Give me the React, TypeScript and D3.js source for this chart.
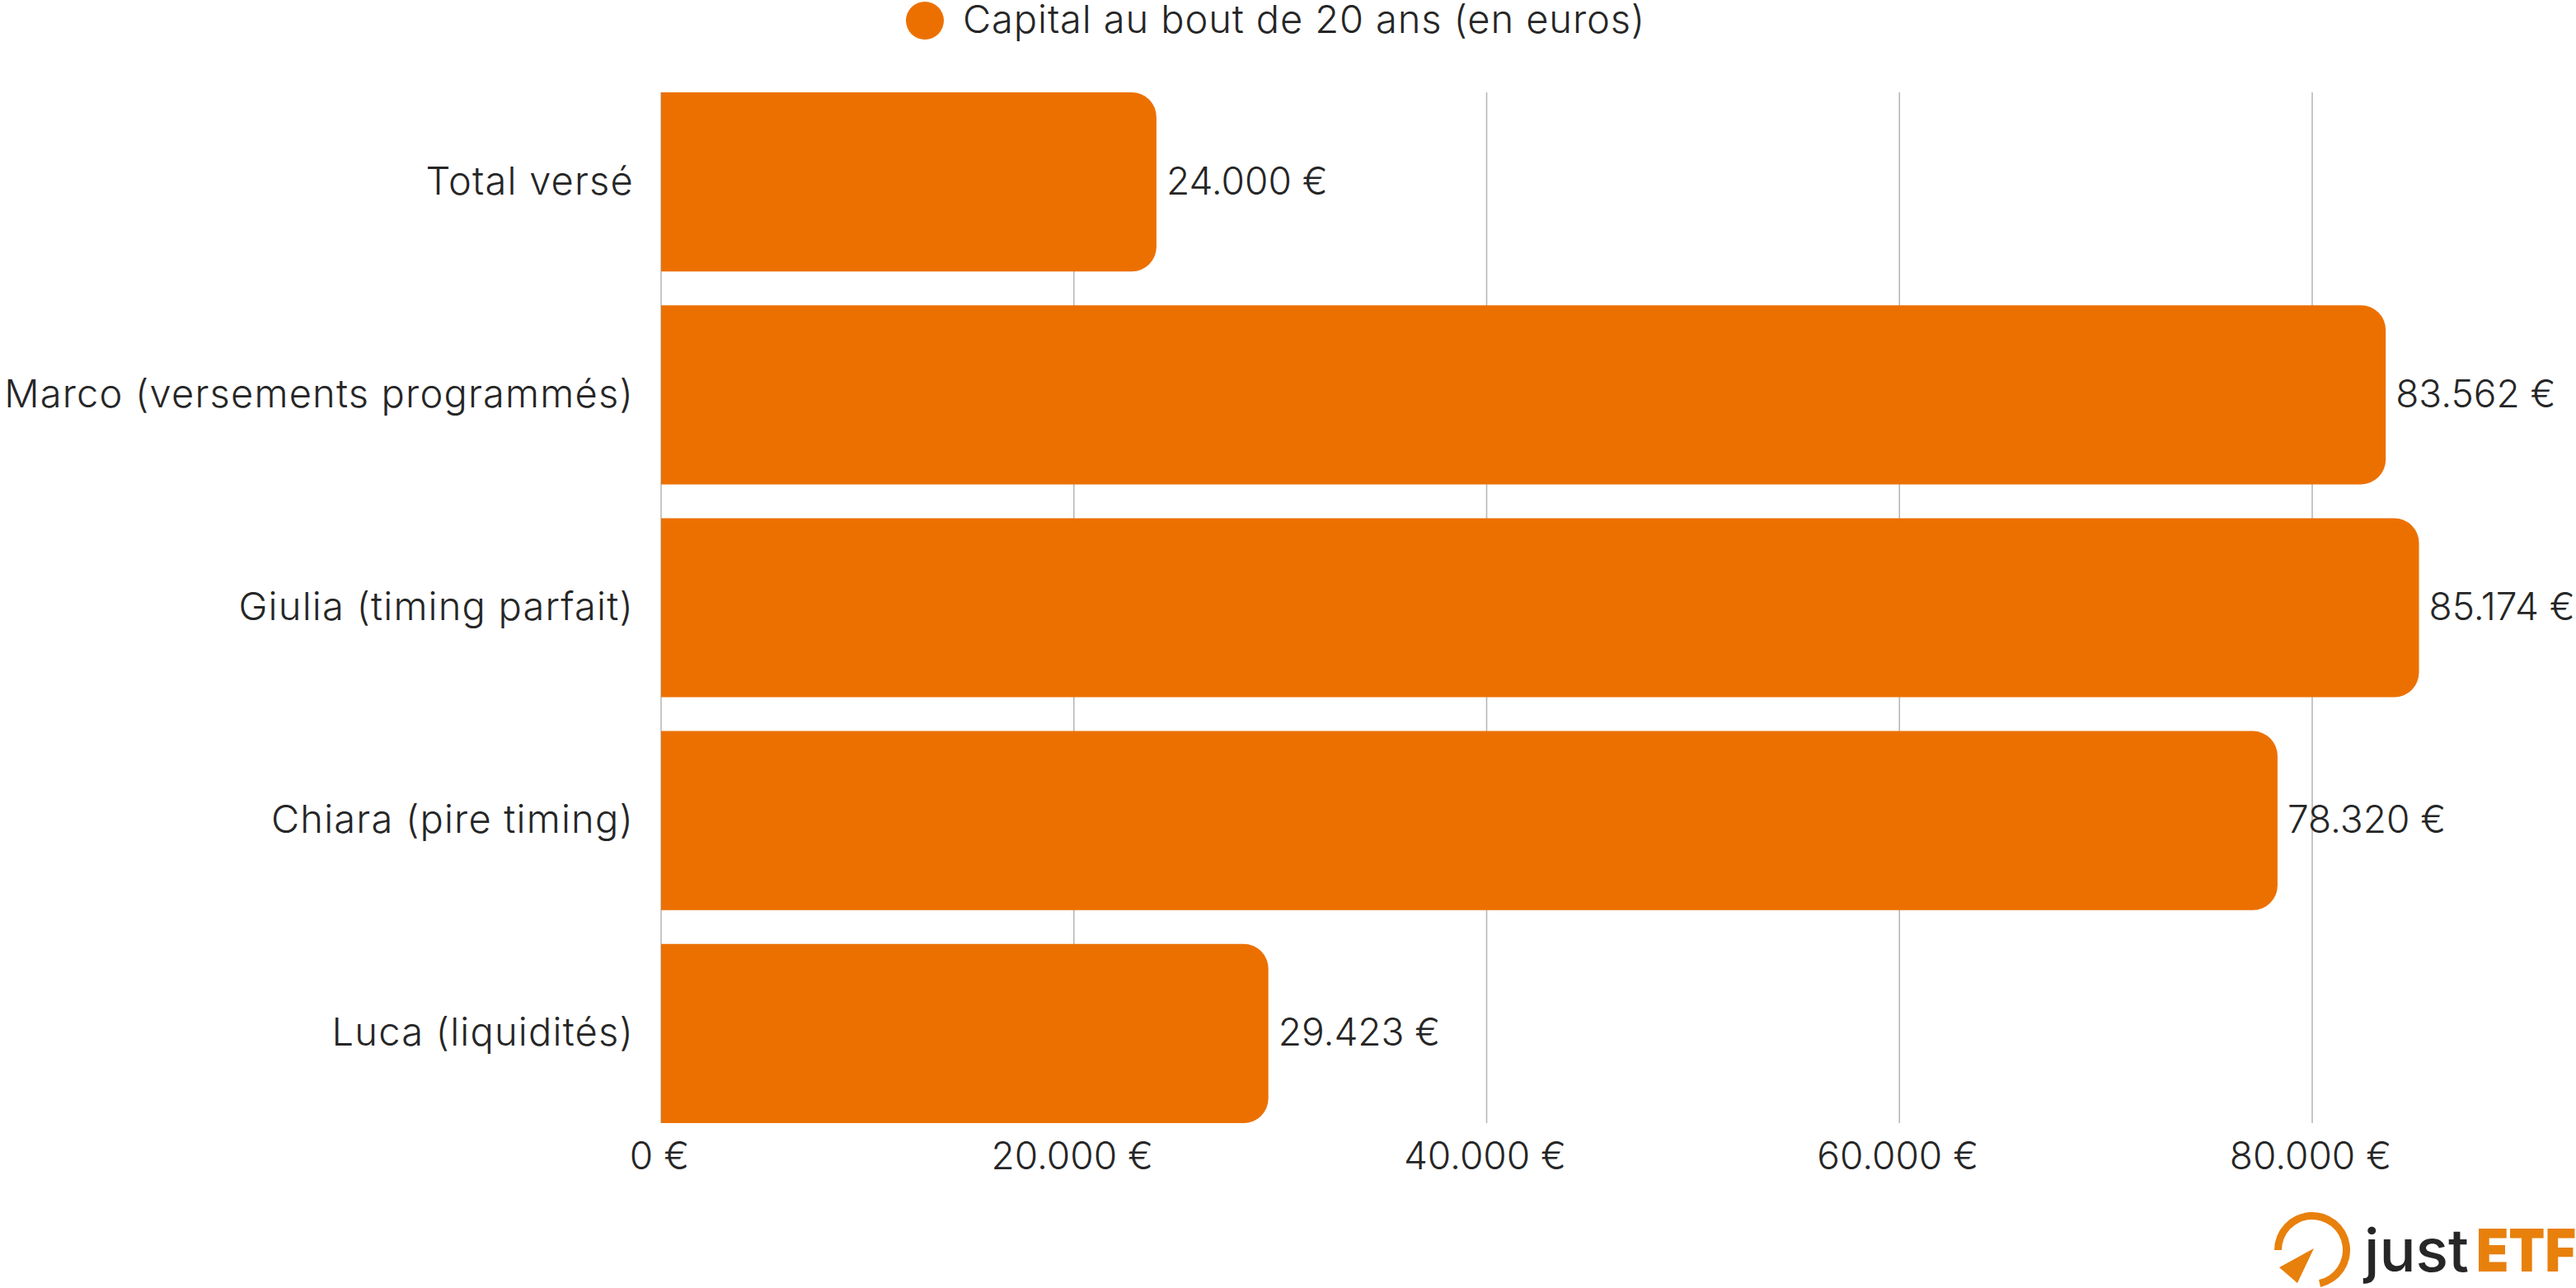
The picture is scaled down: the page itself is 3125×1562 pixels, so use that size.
import React from "react";
import * as d3 from "d3";

const categories = ["Total versé", "Marco (versements programmés)", "Giulia (timing parfait)", "Chiara (pire timing)", "Luca (liquidités)"];
const capital = [24000, 83562, 85174, 78320, 29423];
const valueLabels = ["24.000 €", "83.562 €", "85.174 €", "78.320 €", "29.423 €"];
const xTicks = [0, 20000, 40000, 60000, 80000];
const xTickLabels = ["0 €", "20.000 €", "40.000 €", "60.000 €", "80.000 €"];
const legendLabel = "Capital au bout de 20 ans (en euros)";

const W = 3125, H = 1562;
const ORANGE = "#ec7000";
const FONT = "Inter, 'Noto Sans', sans-serif";
const TEXT = "#262626";

const x = d3.scaleLinear().domain([0, 80000]).range([802, 2805]);
const y = d3.scaleBand<string>().domain(categories).range([112 - 20.5, 1362 + 20.5]).paddingInner(41 / 258).paddingOuter(0.0795);

function barPath(x0: number, x1: number, top: number, h: number, r: number) {
  const p = d3.path();
  p.moveTo(x0, top);
  p.arcTo(x1, top, x1, top + r, r);
  p.arcTo(x1, top + h, x1 - r, top + h, r);
  p.lineTo(x0, top + h);
  p.closePath();
  return p.toString();
}

const logoArc = d3.arc()({ innerRadius: 37, outerRadius: 46, startAngle: -Math.PI / 2, endAngle: Math.PI * 0.93 }) as string;

export default function App() {
  const band = y.bandwidth();
  return (
    <svg width={W} height={H} viewBox={`0 0 ${W} ${H}`} style={{ position: "absolute", left: 0, top: 0, background: "#fff" }} fontFamily={FONT}>
      <circle cx={1122} cy={25} r={23} fill={ORANGE} />
      <text x={1168} y={40} fontSize={47} letterSpacing={0.9} fill={TEXT} fontWeight={350}>{legendLabel}</text>

      {xTicks.map((t) => (
        <line key={t} x1={x(t)} x2={x(t)} y1={112} y2={1362} stroke="#b4b4b4" strokeWidth={1.5} />
      ))}

      {categories.map((c, i) => {
        const top = y(c) as number;
        return (
          <g key={c}>
            <path d={barPath(x(0), x(capital[i]), top, band, 30)} fill={ORANGE} />
            <text x={769} y={top + band / 2 + 15} textAnchor="end" fontSize={47} letterSpacing={1.2} fontWeight={350} fill={TEXT}>{c}</text>
            <text x={x(capital[i]) + 12} y={top + band / 2 + 15} fontSize={46} fontWeight={350} fill={TEXT}>{valueLabels[i]}</text>
          </g>
        );
      })}

      {xTicks.map((t, i) => (
        <text key={t} x={x(t) - 2} y={1418} textAnchor="middle" fontSize={46} fontWeight={350} fill={TEXT}>{xTickLabels[i]}</text>
      ))}

      <g>
        <path d={logoArc} transform="translate(2805,1516)" fill="#e8800c" />
        <polygon points="2807,1514 2765,1537 2787,1556" fill="#e8800c" />
        <text x={2868} y={1542} fontSize={72} fontWeight={500} fill="#262626" textLength={127} lengthAdjust="spacingAndGlyphs">just</text>
        <text x={3004} y={1542} fontSize={72} fontWeight={900} fill="#e8800c" textLength={121} lengthAdjust="spacingAndGlyphs">ETF</text>
      </g>
    </svg>
  );
}
